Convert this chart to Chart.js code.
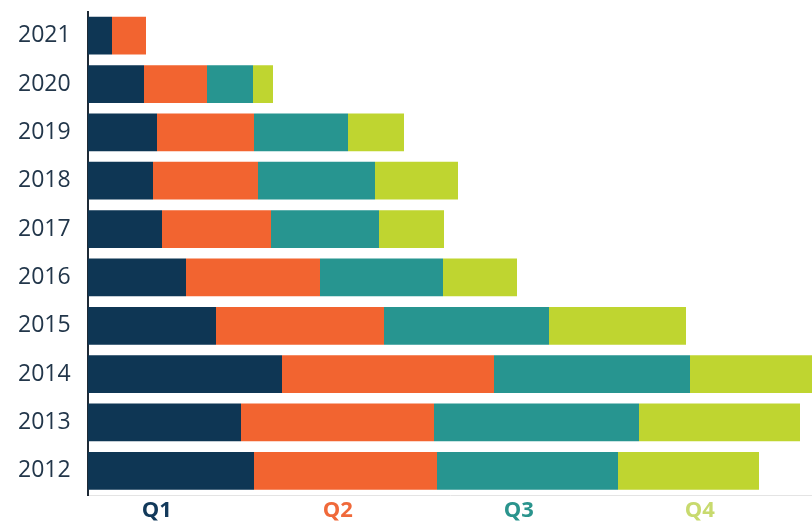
<!DOCTYPE html>
<html>
<head>
<meta charset="utf-8">
<script src="https://cdn.jsdelivr.net/npm/chart.js@4"></script>
<style>
  html, body { margin: 0; padding: 0; background: #fff; }
  #wrap { width: 812px; height: 523px; }
</style>
</head>
<body>
<div id="wrap"><canvas id="myChart"></canvas></div>
<script>
// Years, top to bottom
var years = ['2021', '2020', '2019', '2018', '2017', '2016', '2015', '2014', '2013', '2012'];
var quarters = ['Q1', 'Q2', 'Q3', 'Q4'];

// Values per quarter (same order as years)
var q1 = [24, 56, 69, 65, 74, 98, 128, 194, 153, 166];
var q2 = [34, 63, 97, 105, 109, 134, 168, 212, 193, 183];
var q3 = [0, 46, 94, 117, 108, 123, 165, 196, 205, 181];
var q4 = [0, 20, 56, 83, 65, 74, 137, 150, 161, 141];

var barColors = ['#0e3654', '#f26430', '#279590', '#bfd530'];
var labelColors = ['#12395a', '#f0693a', '#2a948d', '#c8da6e'];

var ctx = document.getElementById('myChart').getContext('2d');
var chart = new Chart(ctx, {
    type: 'bar',
    data: {
        labels: years,
        datasets: [q1, q2, q3, q4].map(function (values, i) {
            return {
                label: quarters[i],
                data: values,
                backgroundColor: barColors[i],
                borderWidth: 0,
                barPercentage: 0.78,
                categoryPercentage: 1.0
            };
        })
    },
    options: {
        indexAxis: 'y',
        responsive: true,
        maintainAspectRatio: false,
        animation: false,
        layout: { padding: { top: 0, left: 18, right: 0, bottom: -4 } },
        plugins: {
            legend: { display: false },
            tooltip: { enabled: false }
        },
        scales: {
            x: {
                stacked: true,
                min: 0,
                max: 724,
                display: false
            },
            // quarter labels along the bottom
            xq: {
                type: 'linear',
                position: 'bottom',
                min: 0.62,
                max: 4.62,
                afterBuildTicks: function (axis) {
                    axis.ticks = quarters.map(function (q, i) { return { value: i + 1 }; });
                },
                grid: { display: false, drawTicks: false },
                border: { display: true, color: '#e4e4e4', width: 1 },
                ticks: {
                    padding: 5,
                    autoSkip: false,
                    maxRotation: 0,
                    font: { family: 'Open Sans', size: 22, weight: 'bold', lineHeight: 1.0 },
                    color: function (c) { return labelColors[c.index]; },
                    callback: function (value, index) { return quarters[index]; }
                }
            },
            y: {
                stacked: true,
                afterFit: function (axis) { axis.width = 70; },
                grid: { display: false, drawTicks: false },
                border: { display: true, color: '#1e2a36', width: 2 },
                ticks: {
                    padding: 0,
                    crossAlign: 'far',
                    font: { family: 'Open Sans', size: 23, lineHeight: 1.0 },
                    color: '#22364a'
                }
            }
        }
    }
});
</script>
</body>
</html>
